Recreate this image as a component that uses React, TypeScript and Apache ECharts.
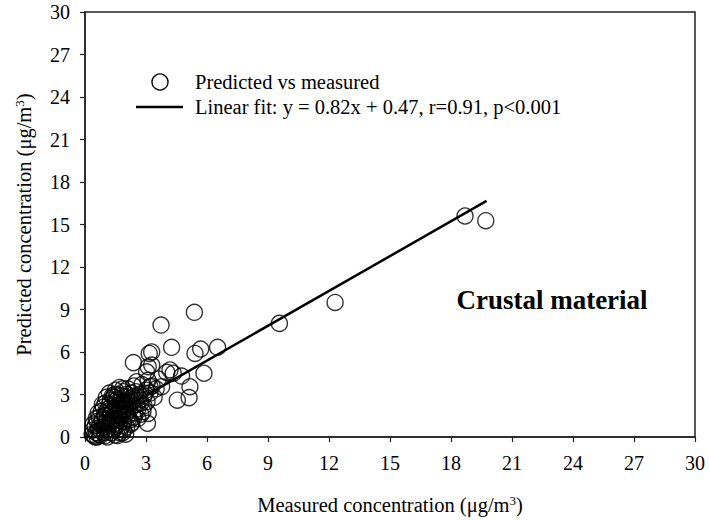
import React, { useEffect, useRef } from "react";
import * as echarts from "echarts";

const clusterX = [0.35,0.4,0.45,0.5,0.55,0.6,0.6,0.65,0.7,0.7,0.75,0.8,0.8,0.85,0.9,0.9,0.95,1.0,1.0,1.0,1.05,1.1,1.1,1.15,1.2,1.2,1.25,1.25,1.3,1.3,1.35,1.4,1.4,1.45,1.45,1.5,1.5,1.55,1.55,1.6,1.6,1.6,1.65,1.7,1.7,1.75,1.75,1.8,1.8,1.85,1.85,1.9,1.9,1.95,2.0,2.0,2.05,2.1,2.1,2.15,2.2,2.25,2.3,2.3,2.35,2.4,2.45,2.5,2.5,2.6,2.6,2.7,2.75,2.8,2.85,2.9,3.0,3.05,3.1,3.2,3.3,3.4,3.5,3.6];
const clusterY = [0.2,0.5,0.1,0.8,0.3,1.1,0.0,0.6,1.4,0.2,0.9,1.8,0.4,1.2,2.1,0.7,1.5,0.1,1.0,2.4,1.8,0.5,1.3,2.0,3.1,0.9,1.6,2.6,0.3,2.2,1.2,1.9,2.8,0.7,1.5,2.4,3.3,1.0,2.0,0.1,1.7,2.7,1.3,2.2,3.5,0.6,1.9,2.9,1.5,0.3,2.5,1.1,3.2,2.0,1.6,2.8,0.7,2.3,3.4,1.3,1.9,2.7,3.1,1.0,2.2,3.6,1.7,2.6,3.2,2.0,1.3,3.0,2.4,3.7,1.8,2.9,3.3,2.5,4.0,3.1,3.6,2.8,3.4,4.1];
const denseX = [0.4,0.5,0.55,0.65,0.75,0.85,0.95,1.05,1.1,1.15,1.2,1.3,1.35,1.4,1.45,1.5,1.55,1.6,1.65,1.7,1.75,1.8,1.85,1.9,1.95,2.0,2.05,2.1,2.2,2.25,2.4,2.45,2.55,2.65,2.75,2.9,1.0,1.3,1.7,2.0];
const denseY = [0.9,0.0,1.3,1.7,0.1,2.3,0.3,2.8,0.0,1.0,2.3,1.7,2.9,0.5,3.0,1.2,2.6,3.0,0.9,1.6,2.6,0.8,3.4,1.8,2.5,0.2,3.0,1.5,2.5,0.9,1.4,2.9,2.3,2.8,1.6,2.2,1.5,1.0,0.3,2.2];
const outerX = [3.74,5.38,4.26,3.28,5.41,5.69,6.52,5.85,5.16,5.12,4.54,4.75,4.18,4.34,3.28,3.11,2.38,3.07,3.77,3.2,2.54,2.95,1.89,1.48,2.21,3.11,3.16,3.03,4.02,9.56,12.3,18.69,19.71];
const outerY = [7.9,8.8,6.33,6.0,5.9,6.21,6.33,4.5,3.55,2.78,2.6,4.3,4.73,4.5,5.08,4.96,5.25,0.97,3.55,3.55,3.9,3.08,0.5,0.14,1.2,1.67,5.9,4.6,4.56,8.02,9.5,15.6,15.27];

const fitSlope = 0.82;
const fitIntercept = 0.47;
const fitRange = [0.4, 19.75];
const axisTicks = [0, 3, 6, 9, 12, 15, 18, 21, 24, 27, 30];

const seriesName = "Predicted vs measured";
const fitName = "Linear fit: y = 0.82x + 0.47, r=0.91, p<0.001";
const panelLabel = "Crustal material";

const FONT = "'Liberation Serif', 'Times New Roman', serif";

export default function App() {
  const ref = useRef<HTMLDivElement>(null);
  useEffect(() => {
    if (!ref.current) return;
    const chart = echarts.init(ref.current, undefined, { renderer: "svg" });
    const points = [
      ...clusterX.map((x, i) => [x, clusterY[i]]),
      ...denseX.map((x, i) => [x, denseY[i]]),
      ...outerX.map((x, i) => [x, outerY[i]]),
    ];
    const fitData = fitRange.map((x) => [x, fitSlope * x + fitIntercept]);
    const rich = {
      a: { fontFamily: FONT, fontSize: 20.5, color: "#000" },
      sup: { fontFamily: FONT, fontSize: 13, color: "#000", verticalAlign: "top", padding: [0, 0, 8, 0] },
    };
    chart.setOption({
      animation: false,
      backgroundColor: "#fff",
      textStyle: { fontFamily: FONT },
      grid: { left: 85, top: 12, right: 14, bottom: 83, show: true, borderColor: "#222", borderWidth: 1.5, backgroundColor: "transparent" },
      xAxis: {
        type: "value", min: axisTicks[0], max: axisTicks[axisTicks.length - 1], interval: 3,
        splitLine: { show: false },
        axisLine: { lineStyle: { color: "#222", width: 1.5 } },
        axisTick: { show: true, inside: false, length: 5, lineStyle: { color: "#222", width: 1.2 } },
        axisLabel: { color: "#000", fontSize: 20, fontFamily: FONT, margin: 16 },
        name: "{a|Measured concentration (μg/m}{sup|3}{a|)}",
        nameLocation: "middle", nameGap: 57,
        nameTextStyle: { rich },
      },
      yAxis: {
        type: "value", min: axisTicks[0], max: axisTicks[axisTicks.length - 1], interval: 3,
        splitLine: { show: false },
        axisLine: { lineStyle: { color: "#222", width: 1.5 } },
        axisTick: { show: true, inside: false, length: 5, lineStyle: { color: "#222", width: 1.2 } },
        axisLabel: { color: "#000", fontSize: 20, fontFamily: FONT, margin: 15 },
        name: "{a|Predicted concentration (μg/m}{sup|3}{a|)}",
        nameLocation: "middle", nameGap: 51,
        nameTextStyle: { rich },
      },
      series: [
        {
          name: seriesName, type: "scatter", data: points, symbol: "circle", symbolSize: 16,
          itemStyle: { color: "rgba(0,0,0,0)", borderColor: "#000", borderWidth: 1.4 },
          silent: true, z: 2,
        },
        {
          name: fitName, type: "line", data: fitData, showSymbol: false, symbol: "none",
          lineStyle: { color: "#000", width: 2.5 }, silent: true, z: 3,
        },
      ],
      graphic: [
        { type: "circle", shape: { cx: 160, cy: 82, r: 8 }, style: { fill: "none", stroke: "#000", lineWidth: 1.4 } },
        { type: "line", shape: { x1: 136, y1: 107, x2: 183, y2: 107 }, style: { stroke: "#000", lineWidth: 2.5 } },
        { type: "text", x: 195, y: 82, style: { text: seriesName, font: `20.5px ${FONT}`, fill: "#000", verticalAlign: "middle" } },
        { type: "text", x: 195, y: 107, style: { text: fitName, font: `20.5px ${FONT}`, fill: "#000", verticalAlign: "middle" } },
        { type: "text", x: 552, y: 300, style: { text: panelLabel, font: `bold 27px ${FONT}`, fill: "#000", align: "center", verticalAlign: "middle" } },
      ],
    });
    return () => chart.dispose();
  }, []);
  return <div ref={ref} style={{ width: 709, height: 520, position: "absolute", left: 0, top: 0 }} />;
}
